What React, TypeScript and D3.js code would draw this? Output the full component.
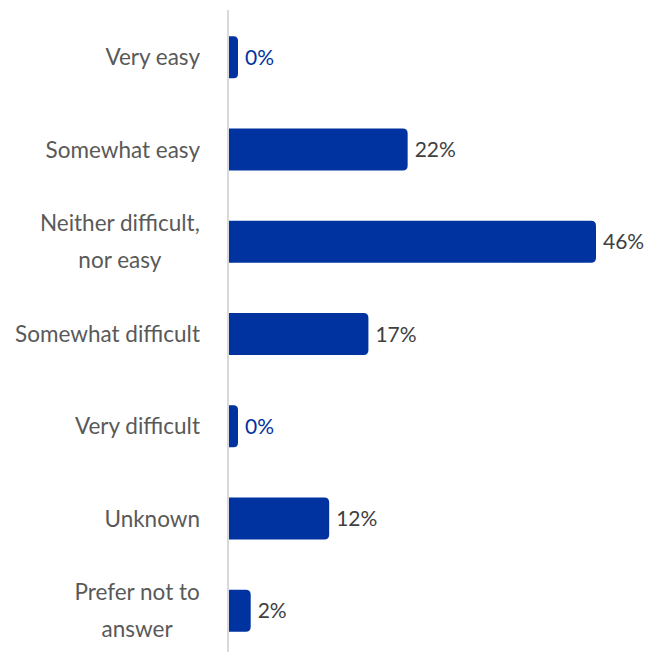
import React from "react";
import * as d3 from "d3";

const categories: string[][] = [
  ["Very easy"],
  ["Somewhat easy"],
  ["Neither difficult,", "nor easy"],
  ["Somewhat difficult"],
  ["Very difficult"],
  ["Unknown"],
  ["Prefer not to", "answer"],
];
const values: number[] = [0, 22, 46, 17, 0, 12, 2];
const valueLabels: string[] = ["0%", "22%", "46%", "17%", "0%", "12%", "2%"];

const W = 661;
const H = 652;
const AXIS_X = 229;
const BLUE = "#0033a0";
const FONT = "Lato, 'Open Sans', sans-serif";
const LABEL_SIZE = 22.5;

let ctx: CanvasRenderingContext2D | null = null;
function measure(t: string): number {
  if (!ctx) ctx = document.createElement("canvas").getContext("2d");
  if (!ctx) return t.length * LABEL_SIZE * 0.5;
  ctx.font = `${LABEL_SIZE}px Lato`;
  return ctx.measureText(t).width;
}

export default function App() {
  const ids = categories.map((_, i) => String(i));
  const y = d3.scaleBand<string>().domain(ids).range([14, 654]).paddingInner(0.545).paddingOuter(0.24);
  const x = d3.scaleLinear().domain([0, 46]).range([235, 596]);
  const r = 5;

  const barPath = (x0: number, x1: number, y0: number, h: number) => {
    const w = x1 - x0;
    const rr = Math.min(r, w / 2, h / 2);
    return `M${x0},${y0}H${x1 - rr}Q${x1},${y0} ${x1},${y0 + rr}V${y0 + h - rr}Q${x1},${y0 + h} ${x1 - rr},${y0 + h}H${x0}Z`;
  };

  return (
    <svg width={W} height={H} style={{ position: "absolute", left: 0, top: 0, background: "#fff" }}>
      <line x1={AXIS_X - 1} x2={AXIS_X - 1} y1={10} y2={H} stroke="#d9d9d9" strokeWidth={2} />
      {values.map((v, i) => {
        const y0 = y(String(i))!;
        const h = y.bandwidth();
        const xe = Math.max(x(v), AXIS_X + 9);
        const cy = y0 + h / 2;
        const lines = categories[i];
        const lh = 37;
        const multi = lines.length > 1;
        const maxW = multi ? Math.max(...lines.map(measure)) : 0;
        const lx = multi ? 200 - maxW / 2 : 200;
        return (
          <g key={i}>
            <path d={barPath(AXIS_X, xe, y0, h)} fill={BLUE} />
            <text
              x={xe + 7}
              y={cy}
              dy="0.36em"
              fontFamily={FONT}
              fontSize={21}
              fill={v === 0 ? BLUE : "#404040"}
            >
              {valueLabels[i]}
            </text>
            {lines.map((t, j) => (
              <text
                key={j}
                x={lx}
                y={cy + (j - (lines.length - 1) / 2) * lh}
                dy="0.36em"
                textAnchor={multi ? "middle" : "end"}
                fontFamily={FONT}
                fontSize={LABEL_SIZE}
                fill="#595959"
              >
                {t}
              </text>
            ))}
          </g>
        );
      })}
    </svg>
  );
}
